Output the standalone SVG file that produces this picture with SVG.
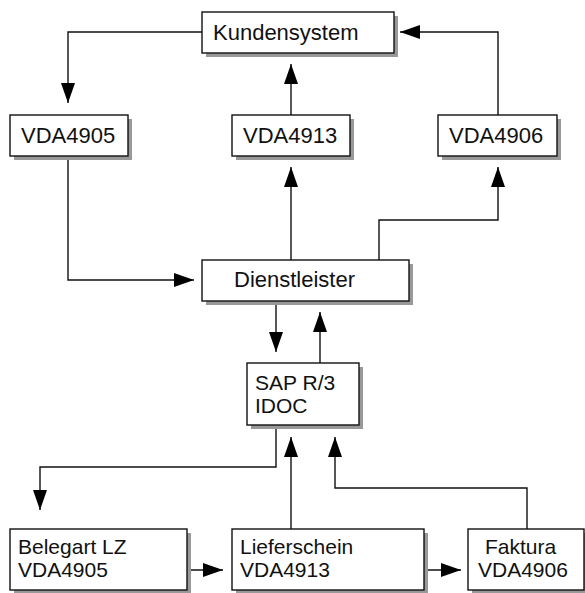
<svg xmlns="http://www.w3.org/2000/svg" width="585" height="593" viewBox="0 0 585 593">
<style>
.sh{fill:#999}
.bx{fill:#fff;stroke:#111;stroke-width:1.4}
.t{font-family:"Liberation Sans",Arial,sans-serif;font-size:22px;fill:#111}
.m{font-size:21px}
.c{fill:none;stroke:#111;stroke-width:1.4}
</style>
<defs>
<marker id="ah" viewBox="0 0 20 14" refX="20" refY="7" markerWidth="20" markerHeight="14" markerUnits="userSpaceOnUse" orient="auto">
<path d="M0,0 L20,7 L0,14 Z" fill="#000"/>
</marker>
</defs>
<rect width="585" height="593" fill="#fff"/>
<g id="connectors">
<path class="c" d="M202,32 H68 V103" marker-end="url(#ah)"/>
<path class="c" d="M291,115 V64" marker-end="url(#ah)"/>
<path class="c" d="M498,115 V32 H400" marker-end="url(#ah)"/>
<path class="c" d="M68,157 V280 H194" marker-end="url(#ah)"/>
<path class="c" d="M291,260 V167" marker-end="url(#ah)"/>
<path class="c" d="M379,260 V220 H498 V167" marker-end="url(#ah)"/>
<path class="c" d="M276,301 V352" marker-end="url(#ah)"/>
<path class="c" d="M320,363 V312" marker-end="url(#ah)"/>
<path class="c" d="M276,425 V467 H40 V510" marker-end="url(#ah)"/>
<path class="c" d="M291,529 V437" marker-end="url(#ah)"/>
<path class="c" d="M527,529 V488 H335 V437" marker-end="url(#ah)"/>
<path class="c" d="M187,570 H223" marker-end="url(#ah)"/>
<path class="c" d="M424,570 H461" marker-end="url(#ah)"/>
</g>
<g id="kundensystem">
<rect class="sh" x="206" y="16" width="192" height="41"/>
<rect class="bx" x="202" y="12" width="192" height="41"/>
<text class="t" x="213" y="40">Kundensystem</text>
</g>
<g id="vda4905">
<rect class="sh" x="14" y="119" width="118" height="41"/>
<rect class="bx" x="10" y="115" width="118" height="41"/>
<text class="t" x="21" y="143">VDA4905</text>
</g>
<g id="vda4913">
<rect class="sh" x="236" y="119" width="118" height="41"/>
<rect class="bx" x="232" y="115" width="118" height="41"/>
<text class="t" x="243" y="143">VDA4913</text>
</g>
<g id="vda4906">
<rect class="sh" x="442" y="119" width="119" height="41"/>
<rect class="bx" x="438" y="115" width="119" height="41"/>
<text class="t" x="449" y="143">VDA4906</text>
</g>
<g id="dienstleister">
<rect class="sh" x="206" y="264" width="207" height="41"/>
<rect class="bx" x="202" y="260" width="207" height="41"/>
<text class="t" x="234" y="287">Dienstleister</text>
</g>
<g id="sap">
<rect class="sh" x="251" y="367" width="112" height="62"/>
<rect class="bx" x="247" y="363" width="112" height="62"/>
<text class="t m" x="255" y="390">SAP R/3</text>
<text class="t m" x="255" y="413">IDOC</text>
</g>
<g id="belegart">
<rect class="sh" x="14" y="533" width="177" height="62"/>
<rect class="bx" x="10" y="529" width="177" height="61"/>
<text class="t m" x="18" y="554">Belegart LZ</text>
<text class="t m" x="18" y="577">VDA4905</text>
</g>
<g id="lieferschein">
<rect class="sh" x="236" y="533" width="192" height="62"/>
<rect class="bx" x="232" y="529" width="192" height="61"/>
<text class="t m" x="240" y="554">Lieferschein</text>
<text class="t m" x="240" y="577">VDA4913</text>
</g>
<g id="faktura">
<rect class="sh" x="472" y="533" width="116" height="62"/>
<rect class="bx" x="468" y="529" width="116" height="61"/>
<text class="t m" x="485" y="554">Faktura</text>
<text class="t m" x="478" y="577">VDA4906</text>
</g>
</svg>
